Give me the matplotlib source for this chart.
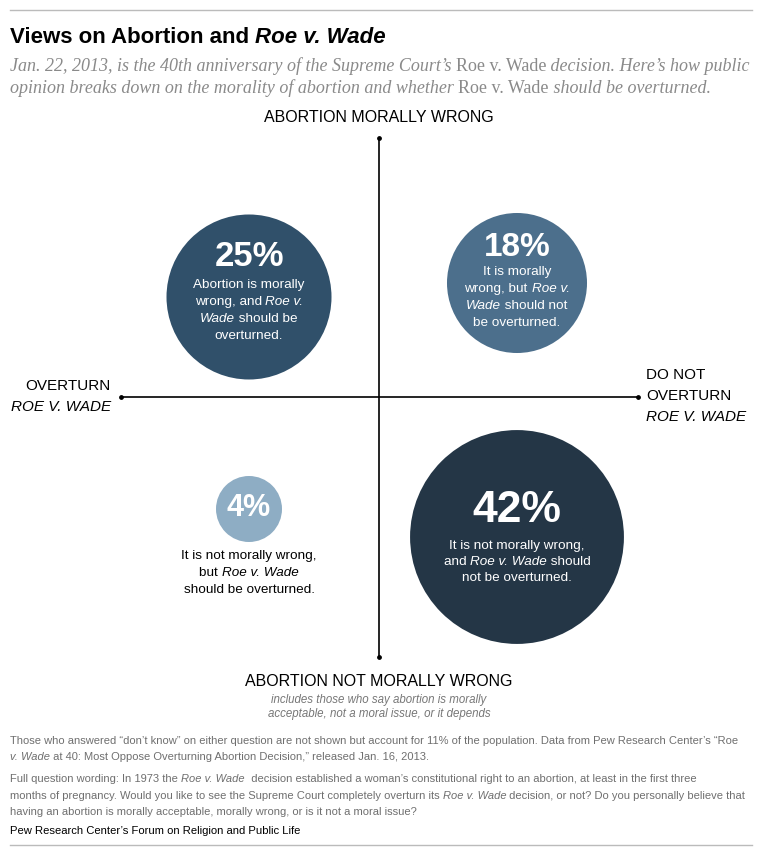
import matplotlib
matplotlib.use("Agg")
import matplotlib.pyplot as plt
from matplotlib.patches import Circle
import numpy as np

# bubble data (share of public, %)
pcts = [25, 18, 4, 42]
colors = ["#30506a", "#4c6f8c", "#8eadc4", "#243646"]
# descriptions: list of lines, each a list of (text, italic)
descs = [
    [[("Abortion is morally", 0)], [("wrong, and ", 0), ("Roe v.", 1)],
     [("Wade", 1), (" should be", 0)], [("overturned.", 0)]],
    [[("It is morally", 0)], [("wrong, but ", 0), ("Roe v.", 1)],
     [("Wade", 1), (" should not", 0)], [("be overturned.", 0)]],
    [[("It is not morally wrong,", 0)], [("but ", 0), ("Roe v. Wade", 1)],
     [("should be overturned.", 0)]],
    [[("It is not morally wrong,", 0)], [("and ", 0), ("Roe v. Wade", 1), (" should", 0)],
     [("not be overturned.", 0)]],
]

SANS = ["Liberation Sans", "DejaVu Sans"]
SERIF = ["Liberation Serif", "DejaVu Serif"]

fig = plt.figure(figsize=(7.6, 8.5), dpi=100)
ax = fig.add_axes([0, 0, 1, 1])
ax.set_xlim(0, 760)
ax.set_ylim(850, 0)
ax.axis("off")
renderer = fig.canvas.get_renderer()


def rich_line(x, y, parts, ha="center", size=10, color="black", family=SANS, weight="normal"):
    objs = []
    widths = []
    for txt, it in parts:
        t = ax.text(0, y, txt, fontsize=size, color=color, family=family, weight=weight,
                    style="italic" if it else "normal", va="center", ha="left")
        objs.append(t)
        widths.append(t.get_window_extent(renderer).width)
    total = sum(widths)
    x0 = x - total / 2 if ha == "center" else x
    for t, w in zip(objs, widths):
        t.set_x(x0)
        x0 += w


# frame lines
ax.plot([10, 752], [10, 10], color="#bbbbbb", lw=1)
ax.plot([10, 752], [845, 845], color="#bbbbbb", lw=1)

# title / subtitle
rich_line(10, 37, [("Views on Abortion and ", 0), ("Roe v. Wade", 1)], ha="left",
          size=16, weight="bold")
rich_line(10, 66, [("Jan. 22, 2013, is the 40th anniversary of the Supreme Court\u2019s ", 1),
                   ("Roe v. Wade", 0), (" decision. Here\u2019s how public", 1)],
          ha="left", size=13, color="#8a8a8a", family=SERIF)
rich_line(10, 88, [("opinion breaks down on the morality of abortion and whether ", 1),
                   ("Roe v. Wade", 0), (" should be overturned.", 1)],
          ha="left", size=13, color="#8a8a8a", family=SERIF)

# quadrant axes
cx, cy = 379, 397
ax.plot([cx, cx], [138, 657], color="black", lw=1.2)
ax.plot([121, 638], [cy, cy], color="black", lw=1.2)
ax.scatter([cx, cx, 121, 638], [138, 657, cy, cy], s=6, color="black", zorder=3)

lab = 11.5
ax.text(cx, 117, "ABORTION MORALLY WRONG", ha="center", va="center", fontsize=lab, family=SANS)
ax.text(cx, 682, "ABORTION NOT MORALLY WRONG", ha="center", va="center", fontsize=lab, family=SANS)
ax.text(cx, 700, "includes those who say abortion is morally", ha="center", va="center",
        fontsize=8.3, style="italic", color="#777777", family=SANS)
ax.text(cx, 714, "acceptable, not a moral issue, or it depends", ha="center", va="center",
        fontsize=8.3, style="italic", color="#777777", family=SANS)
ax.text(111, 386, "OVERTURN", ha="right", va="center", fontsize=11, family=SANS)
ax.text(111, 407, "ROE V. WADE", ha="right", va="center", fontsize=11, family=SANS, style="italic")
ax.text(646, 375, "DO NOT", ha="left", va="center", fontsize=11, family=SANS)
ax.text(646, 396, "OVERTURN", ha="left", va="center", fontsize=11, family=SANS)
ax.text(646, 417, "ROE V. WADE", ha="left", va="center", fontsize=11, family=SANS, style="italic")

# bubbles: area proportional to share
centers = [(249, 297), (517, 283), (249, 509), (517, 537)]
scale = 16.5
pct_y = [257, 247, 508, 511]
pct_size = [25, 24, 22, 32]
text_y0 = [285, 272, 556, 546]
text_dy = [17, 17, 17, 16]
text_col = ["white", "white", "black", "white"]

for p, col, (x, y), py, ps, ty, dy, tc, lines in zip(pcts, colors, centers, pct_y, pct_size,
                                                      text_y0, text_dy, text_col, descs):
    ax.add_patch(Circle((x, y), scale * np.sqrt(p), color=col, lw=0))
    ax.text(x, py, f"{p}%", ha="center", va="center", fontsize=ps, weight="bold",
            color="white", family=SANS)
    for i, parts in enumerate(lines):
        rich_line(x, ty + i * dy, parts, size=9.7, color=tc)

# footnotes
fc = "#6f6f6f"
fs = 8.0
rich_line(10, 741, [("Those who answered \u201cdon\u2019t know\u201d on either question are not shown but account "
                     "for 11% of the population. Data from Pew Research Center\u2019s \u201cRoe", 0)],
          ha="left", size=fs, color=fc)
rich_line(10, 757, [("v. Wade", 1), (" at 40: Most Oppose Overturning Abortion Decision,\u201d released Jan. 16, 2013.", 0)],
          ha="left", size=fs, color=fc)
rich_line(10, 779, [("Full question wording: In 1973 the ", 0), ("Roe v. Wade", 1),
                    ("  decision established a woman\u2019s constitutional right to an abortion, "
                     "at least in the first three", 0)],
          ha="left", size=fs, color=fc)
rich_line(10, 796, [("months of pregnancy. Would you like to see the Supreme Court completely overturn its ", 0),
                    ("Roe v. Wade", 1), (" decision, or not? Do you personally believe that", 0)],
          ha="left", size=fs, color=fc)
rich_line(10, 812, [("having an abortion is morally acceptable, morally wrong, or is it not a moral issue?", 0)],
          ha="left", size=fs, color=fc)
ax.text(10, 831, "Pew Research Center\u2019s Forum on Religion and Public Life", ha="left", va="center",
        fontsize=8.1, color="black", family=SANS)

fig.savefig("out.png", dpi=100)
